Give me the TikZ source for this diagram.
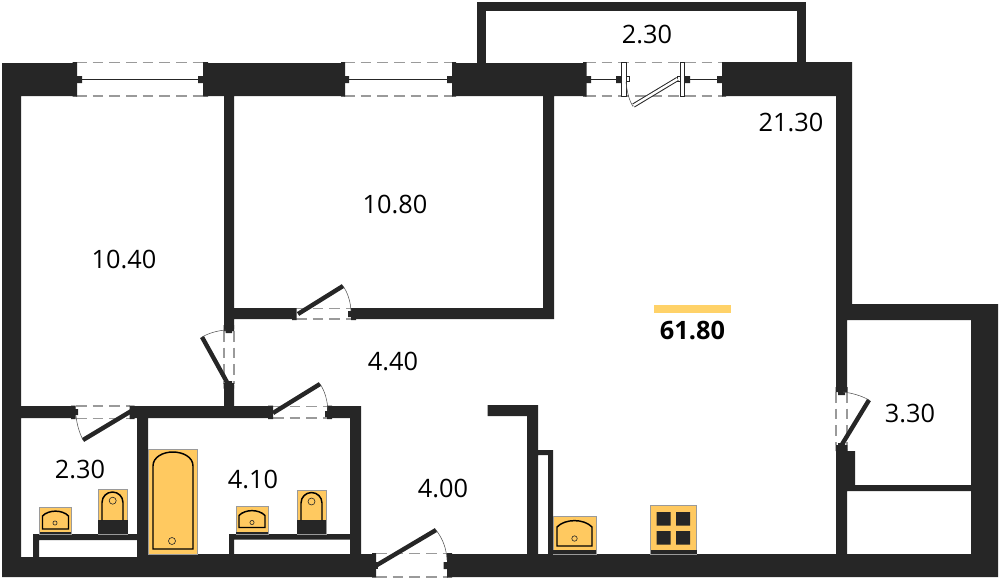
\documentclass[tikz,border=0pt]{standalone}
\usepackage{fontspec}
\setmainfont{Open Sans}
\definecolor{wallc}{HTML}{262626}
\definecolor{fixc}{HTML}{FFC960}
\definecolor{barc}{HTML}{FFD268}
\definecolor{gapc}{HTML}{9A9A9A}
\tikzset{
 wallfill/.style={fill=wallc,draw=none},
 gapline/.style={draw=gapc,line width=0.9pt,dash pattern=on 8pt off 4.5pt},
 glassline/.style={draw=wallc,line width=0.7pt},
 leaf/.style={draw=wallc,line width=3.3pt},
 swing/.style={draw=wallc!80,line width=0.4pt},
 fixture/.style={fill=fixc,draw=gapc,line width=0.4pt},
 fixline/.style={draw=black,line width=1.1pt},
 ring/.style={draw=wallc,line width=0.45pt},
 postbox/.style={fill=white,draw=wallc,line width=0.6pt},
 area/.style={font=\fontsize{19}{21}\selectfont,text=black,inner sep=0pt},
 total/.style={font=\fontsize{19}{21}\selectfont\bfseries,text=black,inner sep=0pt}
}
\newcommand{\sinkbody}[6]{% x1 x2 ytop ybottom cx cy
 \draw[fixline] (#1,#4) -- (#1,#3+5) .. controls (#1+6,#3-1.5) and (#2-6,#3-1.5) .. (#2,#3+5) -- (#2,#4) -- cycle;
 \draw[ring] (#5,#6) circle[radius=2.1];
}
\newcommand{\toiletbody}[4]{% x1 x2 ybottom ytop
 \draw[fixline] (#1,#3) -- (#1,#4+10.5) arc[start angle=180,end angle=0,x radius={(#2-#1)/2},y radius=-10.5] -- (#2,#3);
}
\begin{document}
\begin{tikzpicture}[x=0.75pt,y=-0.75pt]
\useasboundingbox (0,0) rectangle (999,579);
% main walls
\fill[wallfill]
 (2,63) rectangle (76,96)
 (2,63) rectangle (21,577)
 (204,63) rectangle (344,96)
 (453,63) rectangle (585,96)
 (723,62) rectangle (852,96)
 (224,96) rectangle (234,329)
 (543,96) rectangle (554,319)
 (234,308) rectangle (295,319)
 (355,308) rectangle (554,319)
 (224,385) rectangle (234,410)
 (21,406) rectangle (75,418)
 (131,406) rectangle (272,418)
 (330,406) rectangle (361,418)
 (350,406) rectangle (361,557)
 (137,406) rectangle (148,557)
 (2,557) rectangle (372,577)
 (229,554) rectangle (372,577)
 (148,554) rectangle (372,577)
 (452,554) rectangle (998,577)
 (836,96) rectangle (852,305)
 (836,305) rectangle (847,390)
 (836,304) rectangle (998,320)
 (971,304) rectangle (998,577)
 (836,449) rectangle (847,577)
 (836,451) rectangle (855,485)
 (847,485) rectangle (971,491)
 (487.5,405) rectangle (538,416)
 (527,405) rectangle (538,554)
 (538,450) rectangle (553,455)
 (548,450) rectangle (553,554)
 (33,534) rectangle (137,540)
 (33,534) rectangle (39,557)
 (229,534) rectangle (350,539.5)
 (229,534) rectangle (234,554);
% balcony
\draw[wallc,line width=6.75pt] (481.5,63) -- (481.5,6.5) -- (801,6.5) -- (801,63);
% windows
\draw[gapline] (76,62.5) -- (204,62.5) (76,96) -- (204,96);
\draw[gapline] (344,62.5) -- (453,62.5) (344,96) -- (453,96);
\draw[gapline] (585,62.5) -- (723,62.5) (585,96) -- (723,96);
\fill[wallc] (72.5,62) rectangle (77,96.5) (203,62) rectangle (208,96.5)
 (341,62) rectangle (345,96.5) (452,62) rectangle (456,96.5)
 (583,62) rectangle (586.5,96.5) (722,62) rectangle (726,96.5);
\fill[wallc] (76,76) rectangle (82,83) (198,76) rectangle (204,83)
 (344,76) rectangle (349,83) (447,76) rectangle (453,83)
 (585,76) rectangle (591,83) (616,76) rectangle (622,83)
 (684,76) rectangle (690,83) (717,76) rectangle (722,83);
\draw[glassline] (82,79.5) -- (198,79.5) (349,79.5) -- (447,79.5)
 (591,79.5) -- (616,79.5) (690,79.5) -- (717,79.5);
% balcony door
\draw[postbox] (621.5,62) rectangle (626,96.5) (680,62) rectangle (684,96.5);
\draw[postbox] (626,76.5) rectangle (629,81.5) (677,76.5) rectangle (680,81.5);
\draw[wallc,line width=3.3pt] (633.5,105.5) -- (677.5,79);
\draw[white,line width=1.8pt] (633.5,105.5) -- (677.5,79);
\draw[swing] (626,82) .. controls (627,92) and (629,100) .. (633,106.5);
% room door 10.80
\draw[gapline] (296,308.5) -- (352,308.5) (296,319) -- (352,319);
\fill[wallc] (292,308) rectangle (296.5,320) (351,308) rectangle (356,320) (348,311) rectangle (351,317);
\draw[leaf] (298,314) -- (343,286);
\draw[swing] (343,286) .. controls (348,293) and (350.5,302) .. (351,311);
% room door 10.40
\draw[gapline] (224,331) -- (224,384) (234,331) -- (234,384);
\fill[wallc] (223.5,325) rectangle (234,331) (225.5,331) rectangle (232,333)
 (223.5,383) rectangle (234,388.5) (225.5,381) rectangle (232,383);
\draw[leaf] (228,384) -- (202,337);
\draw[swing] (202,337) .. controls (209,333) and (218,330.5) .. (226,330);
% door 4.10
\draw[gapline] (273,406.5) -- (328,406.5) (273,418) -- (328,418);
\fill[wallc] (268,405.5) rectangle (273,419) (325,411) rectangle (327,417) (327,405.5) rectangle (332,419);
\draw[leaf] (273,413) -- (320,384);
\draw[swing] (320,384) .. controls (325,391) and (327.5,401) .. (328,411);
% door 2.30
\draw[gapline] (76,406) -- (130,406) (76,418.5) -- (130,418.5);
\fill[wallc] (71,405.5) rectangle (75.5,419) (75.5,409) rectangle (78,415) (129.5,405.5) rectangle (134.5,419);
\draw[leaf] (133,410) -- (83,440);
\draw[swing] (83,440) .. controls (79.5,433) and (77,425) .. (76,416);
% entrance door
\draw[gapline] (376,553.5) -- (448,553.5) (376,577) -- (448,577);
\fill[wallc] (372,553) rectangle (376,577.5) (447,553) rectangle (452,577.5) (443.5,562) rectangle (447,569);
\fill[wallc] (376,562) rectangle (378,569);
\draw[leaf] (377,565) -- (436,530);
\draw[swing] (436,530) .. controls (443,539) and (446.5,549) .. (447,560);
% door 3.30
\draw[gapline] (836,392) -- (836,445) (847,392) -- (847,445);
\fill[wallc] (835.5,387) rectangle (847.5,392) (838,392) rectangle (845,395)
 (835.5,445) rectangle (847.5,451) (838,443) rectangle (845,445);
\draw[leaf] (841,446) -- (869,400);
\draw[swing] (869,400) .. controls (861,395.5) and (852,393) .. (843,392);
% left bathroom
\draw[fixture] (39.5,507) rectangle (71,534);
\fill[wallc] (39.5,532) rectangle (71,534);
\sinkbody{42.5}{68.5}{511}{529}{55}{523}
\draw[fixture] (98,489.5) rectangle (127.5,534);
\fill[wallc] (98,520) rectangle (127.5,534);
\toiletbody{102}{123}{520}{492}
\draw[ring] (112.7,500.7) circle[radius=3.5];
% bath
\draw[fixture] (148,449) rectangle (197.5,554);
\draw[fixline] (153,549) -- (153,466) .. controls (153,457) and (163,452) .. (172.7,452) .. controls (183,452) and (193,457) .. (193,466) -- (193,549) -- cycle;
\draw[ring] (172,541) circle[radius=3.5];
% right bathroom
\draw[fixture] (236,506) rectangle (268,534);
\fill[wallc] (236,532) rectangle (268,534);
\sinkbody{239}{265}{510.5}{527.5}{252}{522.5}
\draw[fixture] (297,490) rectangle (326,534);
\fill[wallc] (297,520) rectangle (326,534);
\toiletbody{301}{322}{520}{492.5}
\draw[ring] (311.5,501.5) circle[radius=3.5];
% kitchen
\draw[fixture] (553,516) rectangle (596,554);
\fill[wallc] (553,550) rectangle (596,554);
\draw[fixline] (557,546) -- (557,527) .. controls (565,518.5) and (584,518.5) .. (592,527) -- (592,546) -- cycle;
\draw[ring] (574.5,538.5) circle[radius=2.7];
\draw[fixture] (650.5,505.5) rectangle (696.5,554);
\fill[wallc] (650.5,550) rectangle (696.5,554);
\fill[wallc] (656.5,512) rectangle (670.5,525.5) (676,512) rectangle (690,525.5)
 (656.5,531) rectangle (670.5,544.5) (676,531) rectangle (690,544.5);
% total bar
\fill[barc] (654,305) rectangle (731,313);
% labels
\node[area] (lbalc) at (647,34.5) {2.30};
\node[area] (lliving) at (791,122.5) {21.30};
\node[area] (lbed) at (395,204.5) {10.80};
\node[area] (lbedb) at (124,259.5) {10.40};
\node[total] (ltotal) at (692.5,330) {61.80};
\node[area] (lhall) at (393,361) {4.40};
\node[area] (lstore) at (910,413) {3.30};
\node[area] (lwc) at (80,469.5) {2.30};
\node[area] (lbath) at (253,479) {4.10};
\node[area] (lentry) at (443,488.5) {4.00};
\end{tikzpicture}
\end{document}
